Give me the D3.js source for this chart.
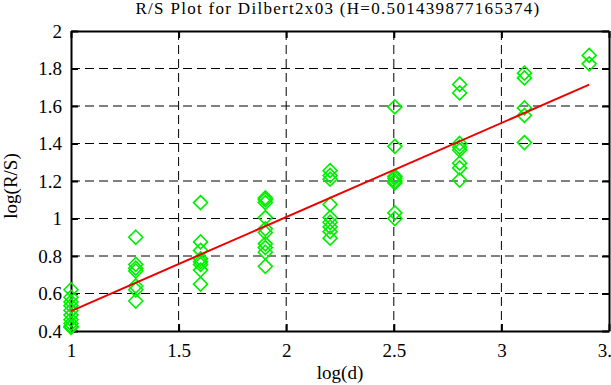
<!DOCTYPE html>
<meta charset="utf-8">
<style>
body { margin: 0; background: #fff; }
svg { display: block; }
svg text { font-family: "Liberation Serif", "DejaVu Serif", serif; }
.grid line { stroke: #000; stroke-dasharray: 9,5; stroke-width: 1; }
</style>
<svg width="611" height="385"></svg>
<script src="https://cdn.jsdelivr.net/npm/d3@7"></script>
<script>

// R/S points: log(d) for each block size, log(R/S) for each block
var logD = [1, 1.301, 1.602, 1.903, 2.204, 2.505, 2.806, 3.107, 3.408];
var logRS = [
  [0.62, 0.58, 0.555, 0.535, 0.51, 0.485, 0.46, 0.44, 0.425, 0.42],
  [0.90, 0.755, 0.735, 0.72, 0.64, 0.62, 0.56],
  [1.085, 0.875, 0.83, 0.785, 0.77, 0.755, 0.725, 0.65],
  [1.11, 1.10, 1.085, 1.005, 0.945, 0.925, 0.865, 0.845, 0.82, 0.745],
  [1.255, 1.23, 1.21, 1.075, 1.005, 0.98, 0.955, 0.93, 0.895],
  [1.595, 1.385, 1.225, 1.215, 1.20, 1.19, 1.03, 1.00],
  [1.715, 1.67, 1.40, 1.38, 1.365, 1.295, 1.27, 1.205],
  [1.775, 1.75, 1.59, 1.55, 1.405],
  [1.87, 1.825]
];
var H = 0.501439877165374;
var intercept = 0.005;

var xTicks = [1, 1.5, 2, 2.5, 3, 3.5];
var yTicks = [0.4, 0.6, 0.8, 1, 1.2, 1.4, 1.6, 1.8, 2];

var svg = d3.select("svg");
var mL = 71, mR = 609, mT = 31, mB = 331;

var x = d3.scaleLinear().domain([1, 3.5]).range([mL, mR]);
var y = d3.scaleLinear().domain([0.4, 2]).range([mB, mT]);

// dashed grid
var grid = svg.append("g").attr("class", "grid");
grid.selectAll(".gx").data(xTicks.slice(1, -1)).enter().append("line")
    .attr("x1", function(d) { return x(d); }).attr("x2", function(d) { return x(d); })
    .attr("y1", mT).attr("y2", mB);
grid.selectAll(".gy").data(yTicks.slice(1, -1)).enter().append("line")
    .attr("y1", function(d) { return y(d); }).attr("y2", function(d) { return y(d); })
    .attr("x1", mL).attr("x2", mR);

// axes with inward ticks on all four sides
function axis(gen, tx, ty) {
  var g = svg.append("g").attr("transform", "translate(" + tx + "," + ty + ")").call(gen);
  g.select(".domain").attr("stroke-width", 2);
  g.selectAll(".tick line").attr("stroke-width", 2);
  g.selectAll("text").attr("fill", "#000").style("font-size", "19px")
      .style("font-family", "'Liberation Serif', serif");
  return g;
}
axis(d3.axisBottom(x).tickValues(xTicks).tickSize(-7).tickSizeOuter(0).tickPadding(13)
    .tickFormat(d3.format("")), 0, mB);
axis(d3.axisTop(x).tickValues(xTicks).tickSize(-7).tickSizeOuter(0).tickFormat(""), 0, mT);
axis(d3.axisLeft(y).tickValues(yTicks).tickSize(-7).tickSizeOuter(0).tickPadding(9)
    .tickFormat(d3.format("")), mL, 0);
axis(d3.axisRight(y).tickValues(yTicks).tickSize(-7).tickSizeOuter(0).tickFormat(""), mR, 0);

// points
var pts = [];
logD.forEach(function(d, i) { logRS[i].forEach(function(v) { pts.push([d, v]); }); });
var r = 7;
svg.append("g").selectAll("path").data(pts).enter().append("path")
    .attr("transform", function(d) { return "translate(" + x(d[0]) + "," + y(d[1]) + ")"; })
    .attr("d", "M0," + (-r) + "L" + r + ",0L0," + r + "L" + (-r) + ",0Z")
    .attr("fill", "none")
    .attr("stroke", "#00ee00")
    .attr("stroke-width", 1.6);

// fitted line
var x0 = d3.min(logD), x1 = d3.max(logD);
svg.append("line")
    .attr("x1", x(x0)).attr("y1", y(intercept + H * x0))
    .attr("x2", x(x1)).attr("y2", y(intercept + H * x1))
    .attr("stroke", "#ee0000").attr("stroke-width", 2);

// labels
svg.append("text").attr("x", 338).attr("y", 14).attr("text-anchor", "middle")
    .attr("font-size", 17).attr("letter-spacing", 1.3)
    .text("R/S Plot for Dilbert2x03 (H=" + H + ")");
svg.append("text").attr("x", 340).attr("y", 379).attr("text-anchor", "middle")
    .attr("font-size", 19).text("log(d)");
svg.append("text").attr("transform", "translate(17,186) rotate(-90)").attr("text-anchor", "middle")
    .attr("font-size", 19).text("log(R/S)");
</script>
